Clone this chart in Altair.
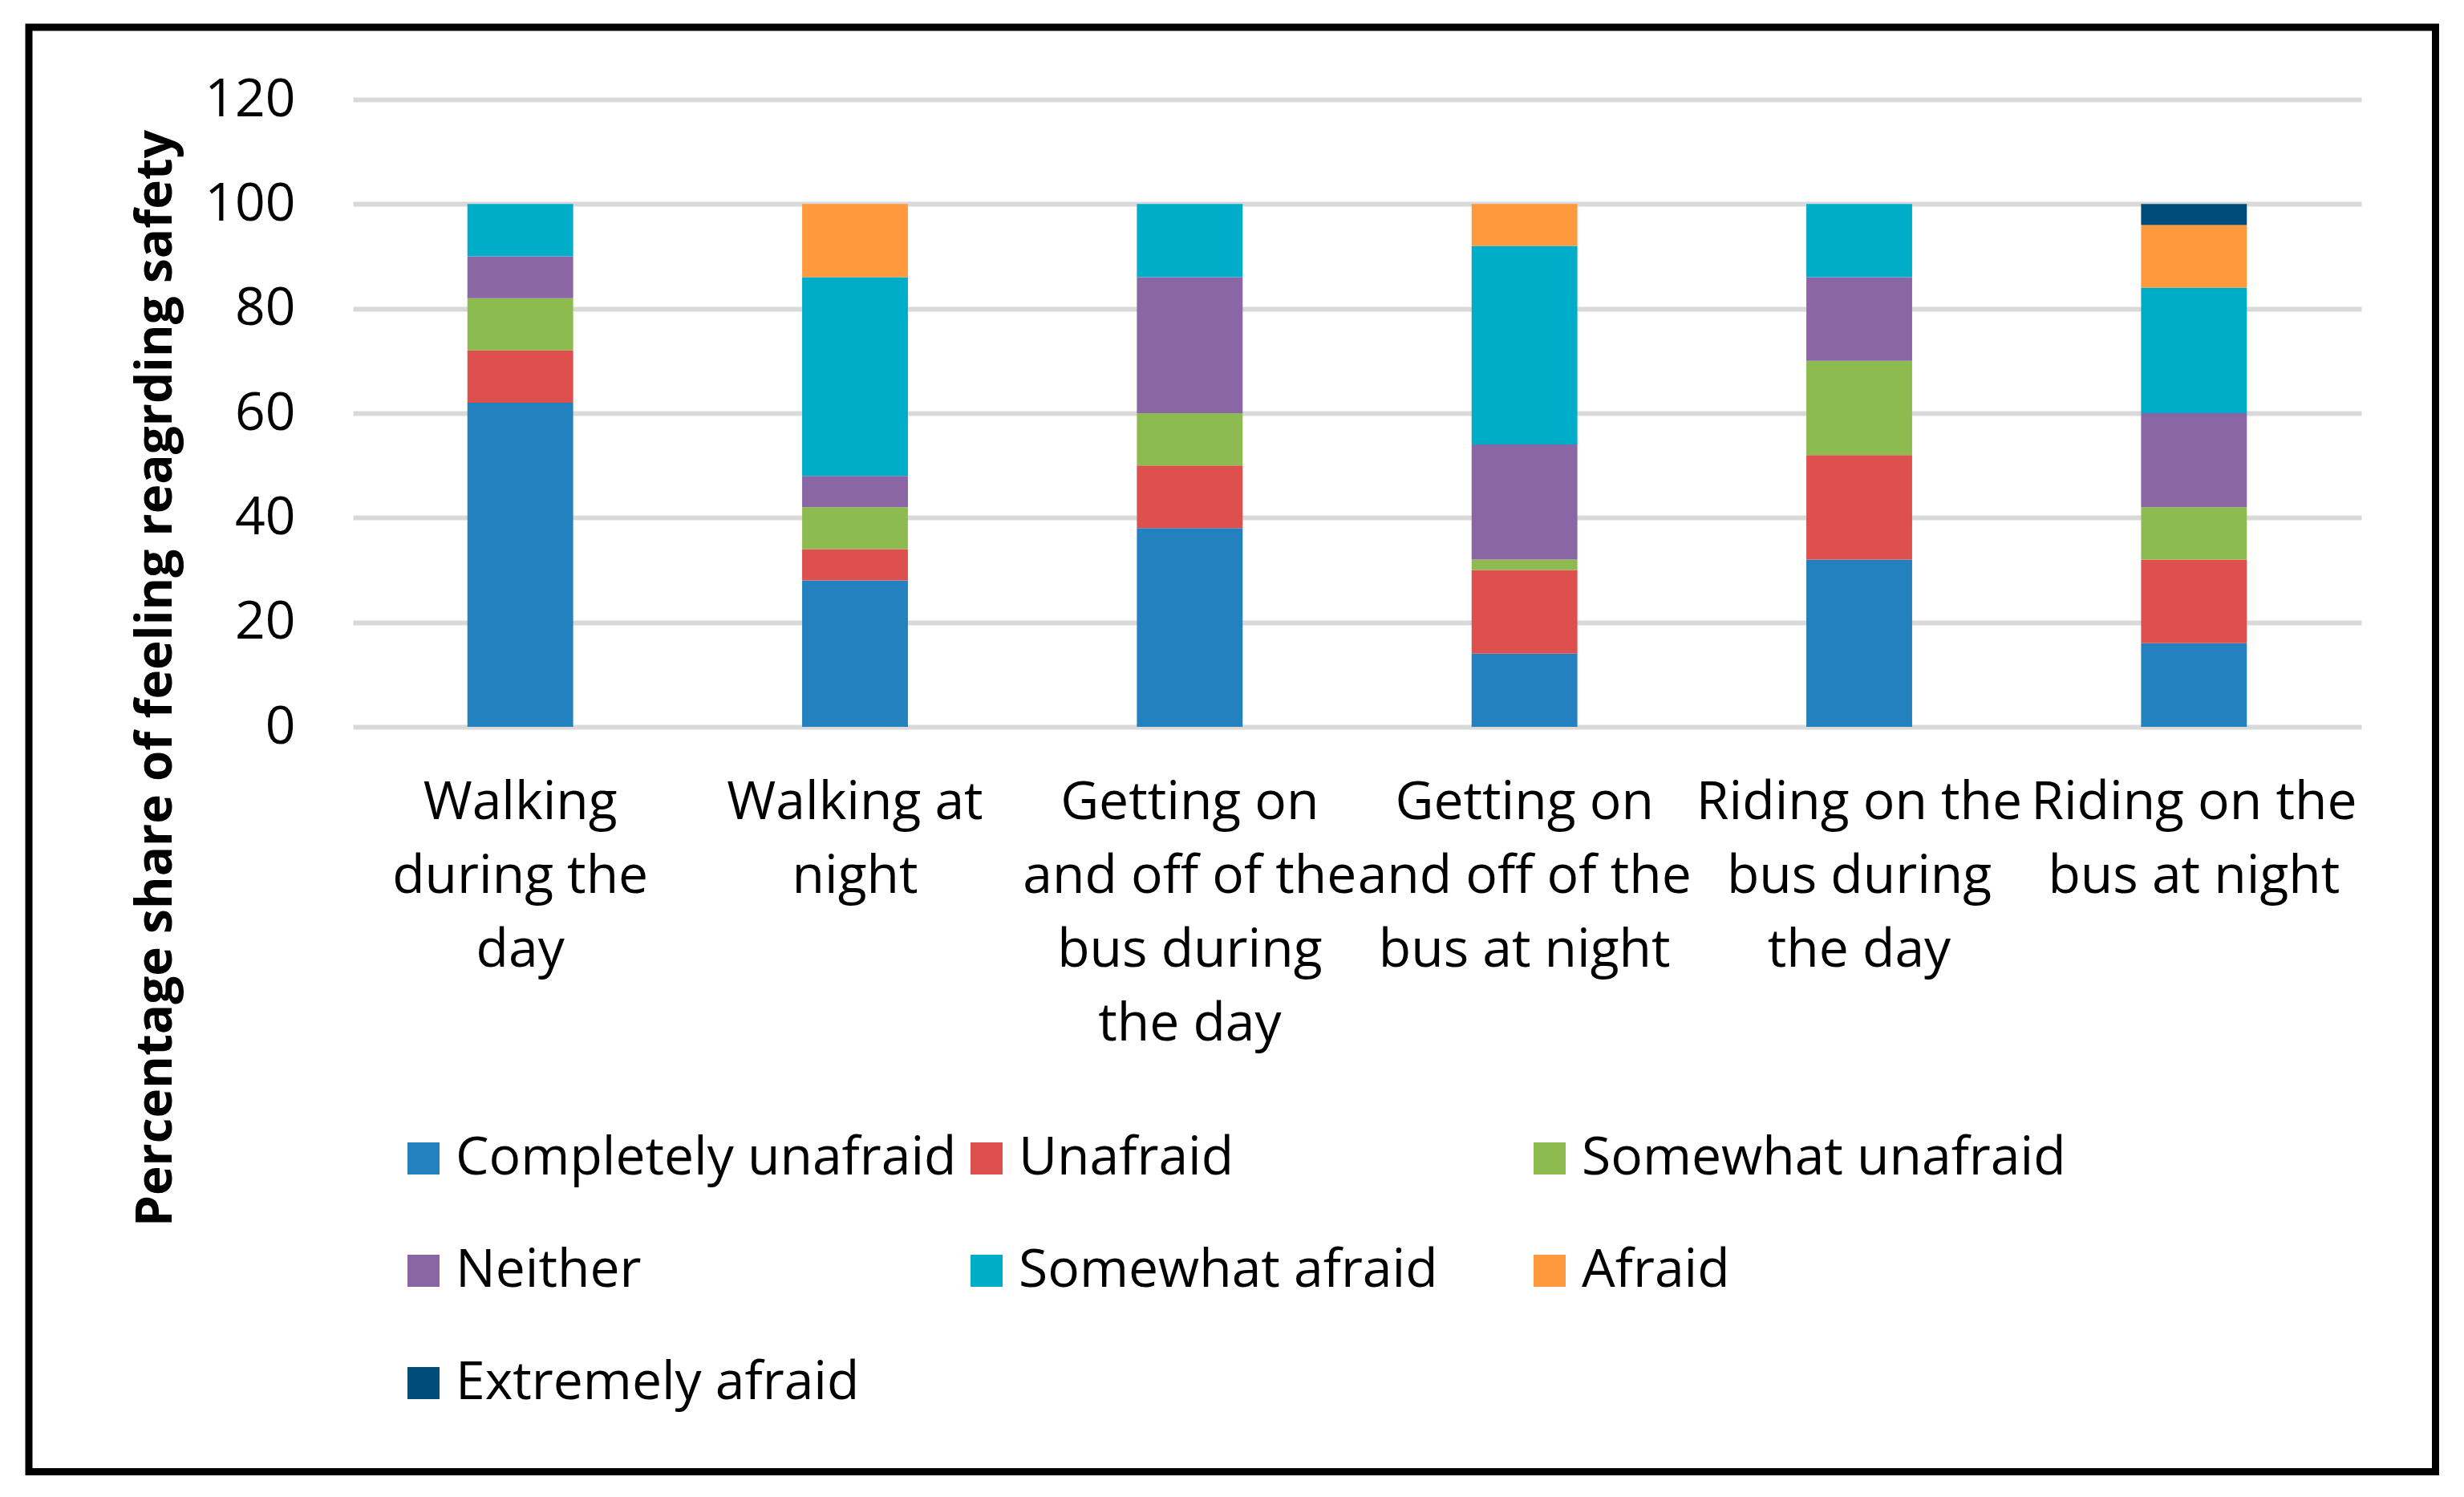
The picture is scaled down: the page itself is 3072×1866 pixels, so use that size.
import altair as alt
import pandas as pd

categories = [
    "Walking|during the|day",
    "Walking at|night",
    "Getting on|and off of the|bus during|the day",
    "Getting on|and off of the|bus at night",
    "Riding on the|bus during|the day",
    "Riding on the|bus at night",
]
series_names = [
    "Completely unafraid",
    "Unafraid",
    "Somewhat unafraid",
    "Neither",
    "Somewhat afraid",
    "Afraid",
    "Extremely afraid",
]
completely_unafraid = [62, 28, 38, 14, 32, 16]
unafraid = [10, 6, 12, 16, 20, 16]
somewhat_unafraid = [10, 8, 10, 2, 18, 10]
neither = [8, 6, 26, 22, 16, 18]
somewhat_afraid = [10, 38, 14, 38, 14, 24]
afraid = [0, 14, 0, 8, 0, 12]
extremely_afraid = [0, 0, 0, 0, 0, 4]
colors = ["#2481C0", "#DE504E", "#8DBB50", "#8B66A5", "#00ADC8", "#FF993D", "#004C79"]
y_ticks = [0, 20, 40, 60, 80, 100, 120]

series_values = [completely_unafraid, unafraid, somewhat_unafraid, neither,
                 somewhat_afraid, afraid, extremely_afraid]
rows = []
for si, (name, vals) in enumerate(zip(series_names, series_values)):
    for cat, v in zip(categories, vals):
        rows.append({"category": cat, "series": name, "order": si, "value": v})
df = pd.DataFrame(rows)

FONT = "Open Sans"
W, H = 2504, 782

bars = alt.Chart(df).mark_bar().encode(
    x=alt.X("category:N", sort=categories,
            scale=alt.Scale(paddingInner=0.684, paddingOuter=0.342),
            axis=alt.Axis(title=None, labelExpr="split(datum.label, '|')",
                          labelFontSize=66, labelFont=FONT, labelColor="black",
                          labelLineHeight=92, labelPadding=62, labelAngle=0,
                          labelAlign="center", labelBaseline="top",
                          labelLimit=1000, labelOverlap=False,
                          ticks=False, tickSize=0, domain=False, grid=False)),
    y=alt.Y("value:Q", stack="zero",
            scale=alt.Scale(domain=[0, 120], nice=False),
            axis=alt.Axis(values=y_ticks, title="Percentage share of  feeling reagrding safety",
                          titleFont=FONT, titleFontSize=62, titleFontWeight="bold",
                          titleColor="black", titleAngle=270, titleAlign="center",
                          titleBaseline="alphabetic", titleX=-227, titleY=721,
                          labelFontSize=66, labelFont=FONT, labelColor="black",
                          labelPadding=72, ticks=False, tickSize=0, domain=False,
                          grid=True, gridColor="#D9D9D9", gridWidth=6)),
    color=alt.Color("series:N", sort=series_names,
                    scale=alt.Scale(domain=series_names, range=colors),
                    legend=alt.Legend(title=None, orient="none", legendX=55, legendY=1287,
                                      direction="horizontal",
                                      columns=3, gridAlign="all", symbolType="square",
                                      symbolSize=1600, symbolStrokeWidth=0,
                                      labelFont=FONT, labelFontSize=66, labelColor="black",
                                      labelOffset=7, labelLimit=2000,
                                      columnPadding=4, rowPadding=74, padding=0)),
    order=alt.Order("order:Q", sort="ascending"),
)

frame = alt.Chart(pd.DataFrame({"k": [0]})).mark_rect(
    fill=None, stroke="black", strokeWidth=9
).encode(
    x=alt.value(-404), x2=alt.value(2596.5),
    y=alt.value(-90), y2=alt.value(1710.5),
)

chart = alt.layer(bars, frame).properties(
    width=W, height=H,
    padding={"left": 432, "top": 116, "right": 120, "bottom": 950},
    autosize=alt.AutoSizeParams(type="none"),
).configure_view(stroke=None)

chart.save("out.html", embed_options={"renderer": "svg", "actions": False})
